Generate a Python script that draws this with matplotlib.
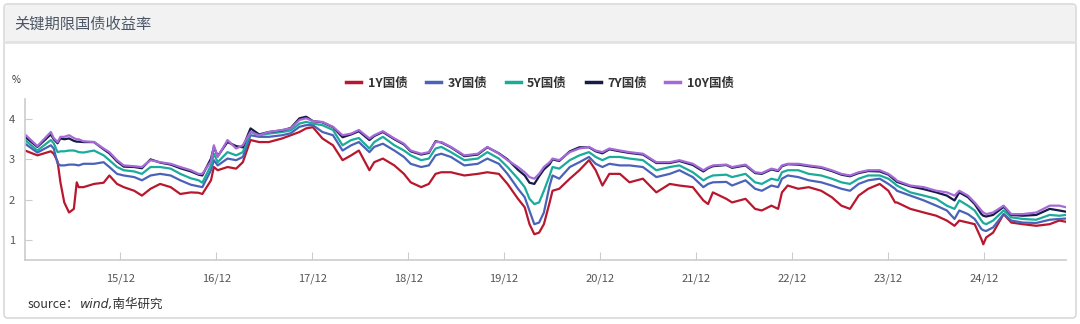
import numpy as np
import pandas as pd
import matplotlib
matplotlib.use('Agg')
import matplotlib.pyplot as plt
import matplotlib.dates as mdates
from matplotlib.patches import FancyBboxPatch
from matplotlib.lines import Line2D

plt.rcParams['font.family'] = ['Noto Sans CJK SC', 'DejaVu Sans']

#############################################################################
# DATA (decimal years)
#############################################################################

t = [2014.92, 2015.05, 2015.19, 2015.22, 2015.26, 2015.29, 2015.33, 2015.38, 2015.43, 2015.46,
     2015.48, 2015.53, 2015.64, 2015.74, 2015.80, 2015.88, 2015.95, 2016.06, 2016.14, 2016.23,
     2016.33, 2016.44, 2016.54, 2016.65, 2016.73, 2016.77, 2016.86, 2016.89, 2016.93, 2017.03,
     2017.12, 2017.19, 2017.27, 2017.36, 2017.46, 2017.60, 2017.69, 2017.78, 2017.85, 2017.92,
     2018.02, 2018.13, 2018.23, 2018.32, 2018.40, 2018.51, 2018.56, 2018.65, 2018.77, 2018.87,
     2018.94, 2019.05, 2019.13, 2019.20, 2019.26, 2019.36, 2019.50, 2019.64, 2019.74, 2019.86,
     2019.95, 2020.06, 2020.13, 2020.18, 2020.23, 2020.28, 2020.33, 2020.39, 2020.42, 2020.49,
     2020.60, 2020.70, 2020.80, 2020.87, 2020.94, 2021.01, 2021.12, 2021.22, 2021.36, 2021.50,
     2021.64, 2021.74, 2021.88, 2021.99, 2022.04, 2022.09, 2022.23, 2022.29, 2022.43, 2022.53,
     2022.60, 2022.70, 2022.77, 2022.81, 2022.87, 2022.98, 2023.09, 2023.22, 2023.33, 2023.43,
     2023.52, 2023.61, 2023.71, 2023.83, 2023.92, 2023.99, 2024.01, 2024.15, 2024.29, 2024.42,
     2024.53, 2024.61, 2024.66, 2024.75, 2024.82, 2024.89, 2024.91, 2024.94, 2025.01, 2025.12,
     2025.20, 2025.32, 2025.46, 2025.60, 2025.70, 2025.77]

y1 = [3.22, 3.10, 3.20, 3.14, 2.95, 2.43, 1.93, 1.68, 1.77, 2.43,
      2.31, 2.31, 2.39, 2.42, 2.60, 2.39, 2.31, 2.22, 2.10, 2.27,
      2.39, 2.31, 2.14, 2.18, 2.17, 2.14, 2.48, 2.81, 2.73, 2.81,
      2.77, 2.93, 3.48, 3.43, 3.43, 3.52, 3.60, 3.68, 3.77, 3.80,
      3.52, 3.35, 2.98, 3.10, 3.22, 2.73, 2.93, 3.02, 2.85, 2.64,
      2.43, 2.31, 2.39, 2.64, 2.68, 2.68, 2.60, 2.64, 2.68, 2.64,
      2.39, 2.02, 1.81, 1.39, 1.14, 1.18, 1.39, 1.93, 2.22, 2.27,
      2.52, 2.73, 2.98, 2.73, 2.35, 2.64, 2.64, 2.43, 2.52, 2.18,
      2.39, 2.35, 2.31, 1.98, 1.89, 2.18, 2.02, 1.93, 2.02, 1.77,
      1.73, 1.85, 1.77, 2.18, 2.35, 2.27, 2.31, 2.22, 2.06, 1.85,
      1.77, 2.10, 2.27, 2.39, 2.22, 1.93, 1.93, 1.77, 1.68, 1.60,
      1.48, 1.35, 1.48, 1.43, 1.39, 1.02, 0.89, 1.06, 1.18, 1.64,
      1.43, 1.39, 1.35, 1.39, 1.48, 1.45]

y3 = [3.39, 3.17, 3.35, 3.27, 2.90, 2.85, 2.85, 2.87, 2.87, 2.86,
      2.85, 2.89, 2.89, 2.93, 2.81, 2.64, 2.60, 2.56, 2.48, 2.60,
      2.64, 2.60, 2.48, 2.37, 2.33, 2.31, 2.73, 2.98, 2.85, 3.02,
      2.98, 3.06, 3.60, 3.56, 3.56, 3.60, 3.65, 3.81, 3.85, 3.85,
      3.68, 3.60, 3.22, 3.35, 3.43, 3.18, 3.31, 3.39, 3.22, 3.06,
      2.89, 2.81, 2.85, 3.10, 3.14, 3.06, 2.85, 2.89, 3.02, 2.89,
      2.64, 2.27, 2.06, 1.72, 1.39, 1.43, 1.68, 2.35, 2.60, 2.52,
      2.81, 2.93, 3.06, 2.89, 2.81, 2.89, 2.85, 2.85, 2.81, 2.56,
      2.64, 2.73, 2.56, 2.31, 2.39, 2.43, 2.44, 2.35, 2.48, 2.27,
      2.22, 2.35, 2.31, 2.52, 2.60, 2.56, 2.48, 2.43, 2.35, 2.27,
      2.22, 2.39, 2.48, 2.52, 2.39, 2.27, 2.22, 2.10, 1.98, 1.85,
      1.73, 1.52, 1.73, 1.64, 1.52, 1.27, 1.24, 1.22, 1.31, 1.64,
      1.48, 1.43, 1.42, 1.50, 1.52, 1.53]

y5 = [3.48, 3.22, 3.48, 3.40, 3.18, 3.20, 3.20, 3.22, 3.22, 3.20,
      3.18, 3.17, 3.22, 3.10, 2.98, 2.81, 2.73, 2.70, 2.64, 2.81,
      2.81, 2.77, 2.64, 2.53, 2.48, 2.42, 2.85, 3.14, 2.93, 3.18,
      3.10, 3.18, 3.68, 3.60, 3.64, 3.68, 3.72, 3.89, 3.93, 3.89,
      3.85, 3.73, 3.35, 3.48, 3.53, 3.27, 3.43, 3.56, 3.35, 3.22,
      3.10, 2.98, 3.02, 3.27, 3.31, 3.18, 2.98, 3.02, 3.18, 3.02,
      2.81, 2.52, 2.31, 2.02, 1.89, 1.93, 2.22, 2.60, 2.81, 2.77,
      2.98, 3.10, 3.18, 3.06, 2.98, 3.06, 3.06, 3.02, 2.98, 2.73,
      2.81, 2.85, 2.68, 2.48, 2.55, 2.60, 2.62, 2.56, 2.64, 2.43,
      2.39, 2.52, 2.48, 2.68, 2.73, 2.73, 2.64, 2.60, 2.52, 2.43,
      2.39, 2.52, 2.60, 2.60, 2.52, 2.39, 2.35, 2.18, 2.10, 2.02,
      1.85, 1.77, 1.98, 1.85, 1.73, 1.48, 1.42, 1.39, 1.48, 1.73,
      1.56, 1.52, 1.50, 1.62, 1.60, 1.62]

y7 = [3.56, 3.31, 3.62, 3.50, 3.40, 3.52, 3.50, 3.52, 3.46, 3.44,
      3.44, 3.43, 3.43, 3.25, 3.15, 2.95, 2.82, 2.81, 2.78, 3.00,
      2.92, 2.87, 2.78, 2.70, 2.62, 2.60, 3.02, 3.30, 3.08, 3.43,
      3.33, 3.30, 3.77, 3.62, 3.68, 3.72, 3.78, 4.02, 4.06, 3.95,
      3.92, 3.80, 3.55, 3.62, 3.70, 3.48, 3.58, 3.68, 3.50, 3.37,
      3.20, 3.12, 3.16, 3.45, 3.42, 3.30, 3.08, 3.12, 3.30, 3.15,
      3.00, 2.74, 2.60, 2.42, 2.39, 2.58, 2.75, 2.88, 3.00, 2.96,
      3.20, 3.30, 3.30, 3.20, 3.15, 3.25, 3.20, 3.16, 3.12, 2.91,
      2.91, 2.96, 2.86, 2.70, 2.78, 2.83, 2.86, 2.79, 2.85, 2.66,
      2.64, 2.75, 2.71, 2.83, 2.88, 2.87, 2.83, 2.79, 2.71, 2.62,
      2.58, 2.66, 2.71, 2.70, 2.62, 2.48, 2.44, 2.33, 2.26, 2.18,
      2.10, 1.98, 2.18, 2.06, 1.89, 1.64, 1.60, 1.58, 1.62, 1.82,
      1.62, 1.60, 1.62, 1.77, 1.73, 1.70]

y10 = [3.62, 3.33, 3.68, 3.53, 3.43, 3.56, 3.56, 3.60, 3.53, 3.50,
       3.50, 3.45, 3.43, 3.27, 3.18, 2.98, 2.85, 2.83, 2.81, 2.98,
       2.93, 2.89, 2.81, 2.73, 2.64, 2.64, 2.95, 3.35, 3.06, 3.48,
       3.27, 3.35, 3.68, 3.60, 3.68, 3.73, 3.77, 3.98, 4.02, 3.95,
       3.93, 3.81, 3.60, 3.64, 3.73, 3.52, 3.60, 3.70, 3.52, 3.39,
       3.22, 3.14, 3.18, 3.43, 3.43, 3.31, 3.10, 3.14, 3.31, 3.14,
       2.98, 2.81, 2.68, 2.56, 2.52, 2.64, 2.81, 2.93, 3.02, 2.98,
       3.18, 3.27, 3.31, 3.22, 3.18, 3.27, 3.22, 3.18, 3.14, 2.93,
       2.93, 2.98, 2.89, 2.73, 2.80, 2.85, 2.87, 2.81, 2.87, 2.68,
       2.66, 2.77, 2.73, 2.85, 2.89, 2.89, 2.85, 2.81, 2.73, 2.64,
       2.60, 2.68, 2.73, 2.73, 2.64, 2.52, 2.47, 2.35, 2.31, 2.22,
       2.18, 2.10, 2.22, 2.10, 1.93, 1.73, 1.68, 1.64, 1.68, 1.85,
       1.64, 1.64, 1.68, 1.85, 1.85, 1.81]

series = ['1Y国债', '3Y国债', '5Y国债', '7Y国债', '10Y国债']
colors = ['#b8172e', '#4a63b8', '#1aab9b', '#161b48', '#a66ad8']
tick_years = list(range(2015, 2025))

#############################################################################
# PLOTTING
#############################################################################

def to_date(y):
    yr = int(y)
    return pd.Timestamp(yr, 1, 1) + pd.Timedelta(days=(y - yr) * 365.25)

dates = [to_date(v) for v in t]

W, H = 1080, 324
fig = plt.figure(figsize=(W / 100, H / 100), dpi=100)

# card + header, in pixels (y flipped), kept below the axes
card = FancyBboxPatch((4, H - 318), 1072, 314, boxstyle='round,pad=0,rounding_size=4',
                      transform=None, facecolor='white', edgecolor='#d9d9d9', lw=1.2, zorder=-3)
fig.patches.append(card)
head = FancyBboxPatch((5, H - 42), 1070, 37, boxstyle='round,pad=0,rounding_size=3',
                      transform=None, facecolor='#f2f2f2', edgecolor='none', zorder=-2)
fig.patches.append(head)
fig.lines.append(Line2D([5, 1075], [H - 42, H - 42], transform=None, color='#e2e2e2', lw=2, zorder=-1))

fig.text(14 / W, 1 - 24 / H, '关键期限国债收益率', fontsize=11, color='#4b5566', va='center', ha='left')

ax = fig.add_axes([25 / W, 1 - 260 / H, (1066 - 25) / W, (260 - 99) / H])
ax.set_facecolor('none')

for vals, name, c in zip([y1, y3, y5, y7, y10], series, colors):
    ax.plot(dates, vals, color=c, lw=1.6, label=name, solid_joinstyle='round')

ax.set_xlim(dates[0], dates[-1])
ax.set_ylim(0.5, 4.5)
ax.set_yticks([1, 2, 3, 4])
ax.set_xticks([pd.Timestamp(y, 12, 1) for y in tick_years])
ax.xaxis.set_major_formatter(mdates.DateFormatter('%y/%m'))

for s in ['top', 'right']:
    ax.spines[s].set_visible(False)
for s in ['left', 'bottom']:
    ax.spines[s].set_color('#cccccc')
    ax.spines[s].set_linewidth(1.2)
ax.tick_params(axis='x', direction='in', length=6, color='#cccccc', labelsize=8, labelcolor='#555555', pad=10)
ax.tick_params(axis='y', direction='in', length=5, color='#cccccc', labelsize=8, labelcolor='#555555', pad=7)

fig.text(12 / W, 1 - 80 / H, '%', fontsize=7, color='#333333', va='center', ha='left')

leg = fig.legend(loc='center', bbox_to_anchor=(540 / W, 1 - 83 / H), ncol=5, frameon=False,
                 handlelength=1.2, handletextpad=0.5, columnspacing=1.5,
                 prop={'size': 9, 'weight': 'bold'})
for txt in leg.get_texts():
    txt.set_color('#333333')
for ln in leg.get_lines():
    ln.set_linewidth(2.5)

src = fig.text(28 / W, 1 - 304 / H, 'source：', fontsize=9, color='#333333', va='center', ha='left')
# latin part gets an oblique face from DejaVu, CJK part falls back upright
ax.annotate('wind,南华研究', xy=(1, 0.5), xycoords=src, va='center', ha='left',
            fontsize=9, color='#333333', style='italic', annotation_clip=False,
            family=['DejaVu Sans', 'Noto Sans CJK SC'])

fig.savefig('out.png', dpi=100)
